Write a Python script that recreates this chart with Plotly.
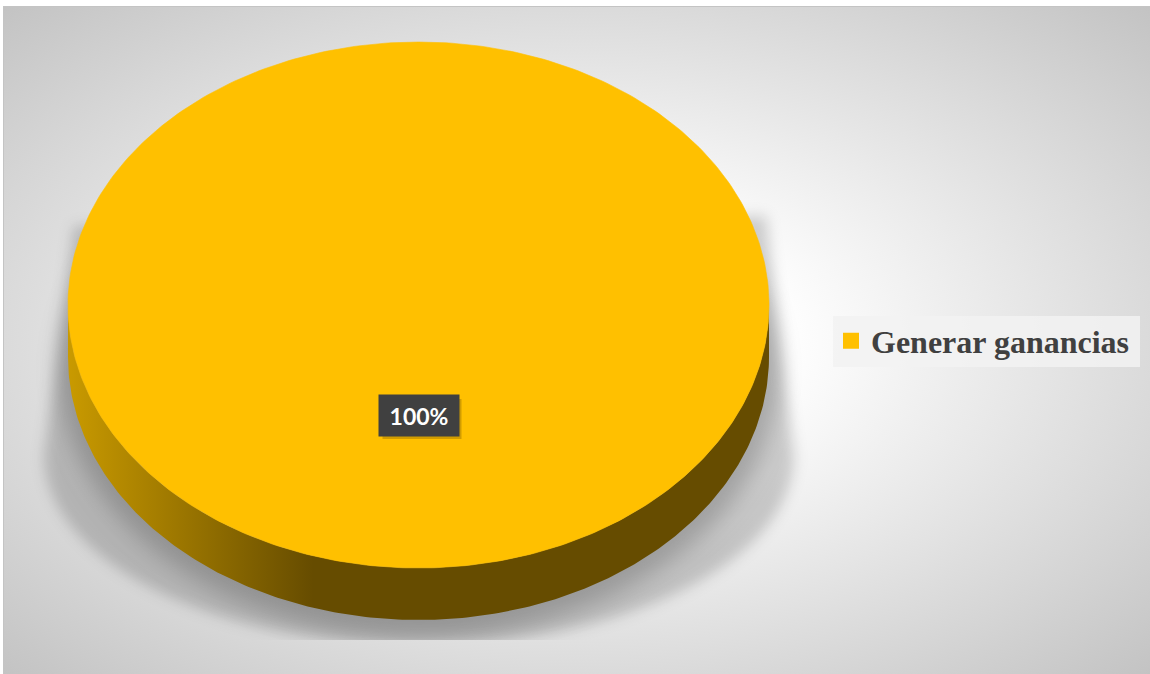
import base64
import numpy as np
import plotly.graph_objects as go

# Chart data
labels = ["Generar ganancias"]
values = [100]
colors = ["#FFC000"]
side_light = ["#C99A00"]
side_dark = ["#664C00"]

W, H = 1150, 674
# 3-D pie geometry in pixel units (top face ellipse + rim depth)
CX, CY, RX, RY, DEPTH = 418.5, 305.0, 350.5, 263.0, 52.0

total = float(sum(values))
fracs = [v / total for v in values]
starts = np.concatenate([[0.0], np.cumsum(fracs)[:-1]])

# Background panel with radial light and soft perspective shadow of the pie
svg = f'''<svg xmlns="http://www.w3.org/2000/svg" width="{W}" height="{H}" viewBox="0 0 {W} {H}">
<defs>
<radialGradient id="bg" cx="0.5" cy="0.5" r="0.7071">
<stop offset="0" stop-color="#ffffff"/>
<stop offset="0.25" stop-color="#ffffff"/>
<stop offset="1" stop-color="#c3c3c3"/>
</radialGradient>
<filter id="b1" x="-20%" y="-20%" width="140%" height="140%"><feGaussianBlur stdDeviation="7"/></filter>
<filter id="b2" x="-20%" y="-20%" width="140%" height="140%"><feGaussianBlur stdDeviation="11"/></filter>
<clipPath id="c"><rect x="0" y="0" width="{W}" height="640"/></clipPath>
</defs>
<rect x="0" y="0" width="{W}" height="{H}" fill="#ffffff"/>
<rect x="3.5" y="6.5" width="1147" height="668" fill="url(#bg)" stroke="#c4c4c4" stroke-width="1"/>
<g clip-path="url(#c)">
<path d="M74,226 L44,455 A375,190 0 0 0 794,455 L766,216 Z" fill="#000" fill-opacity="0.18" filter="url(#b1)"/>
<ellipse cx="419" cy="370" rx="360" ry="266" fill="#000" fill-opacity="0.2" filter="url(#b2)"/>
</g>
</svg>'''
bg_src = "data:image/svg+xml;base64," + base64.b64encode(svg.encode()).decode()

fig = go.Figure()

for lab, f, s, col, lt, dk in zip(labels, fracs, starts, colors, side_light, side_dark):
    # slices run clockwise from 12 o'clock (screen y grows downward)
    a0 = -np.pi / 2 + 2 * np.pi * s
    a1 = a0 + 2 * np.pi * f

    # front rim: visible part of the slice between 0 and pi
    lo, hi = max(a0, 0.0), min(a1, np.pi)
    if hi > lo:
        t = np.linspace(lo, hi, 240)
        xs = np.concatenate([CX + RX * np.cos(t), (CX + RX * np.cos(t))[::-1]])
        ys = np.concatenate([CY + RY * np.sin(t), (CY + DEPTH + RY * np.sin(t))[::-1]])
        fig.add_trace(go.Scatter(
            x=xs, y=ys, mode="lines", fill="toself", line=dict(width=0),
            fillgradient=dict(type="horizontal",
                              colorscale=[[0, lt], [0.35, dk], [1, dk]]),
            hoverinfo="skip", showlegend=False))

    # top face
    t = np.linspace(a0, a1, 400)
    xs = CX + RX * np.cos(t)
    ys = CY + RY * np.sin(t)
    if f < 1:
        xs = np.concatenate([[CX], xs, [CX]])
        ys = np.concatenate([[CY], ys, [CY]])
    fig.add_trace(go.Scatter(
        x=xs, y=ys, mode="lines", fill="toself", fillcolor=col,
        line=dict(width=0.6, color=col), hoverinfo="skip",
        showlegend=False, legendgroup=lab))

    # legend entry
    fig.add_trace(go.Scatter(
        x=[None], y=[None], mode="markers", name=lab, legendgroup=lab,
        marker=dict(symbol="square", size=16, color=col)))

# Data label
label_y = CY + 110
for lab, f in zip(labels, fracs):
    fig.add_shape(type="rect", x0=CX - 36, x1=CX + 43, y0=label_y - 16, y1=label_y + 24,
                  fillcolor="rgba(90,65,0,0.28)", line=dict(width=0), layer="above")
    fig.add_annotation(
        x=CX, y=label_y, text=f"<b>{f * 100:.0f}%</b>", showarrow=False,
        width=78, height=39, bgcolor="#404040",
        font=dict(family="Lato, Open Sans, sans-serif", size=23, color="#ffffff"))

# Legend panel
fig.add_shape(type="rect", x0=833, x1=1140, y0=316, y1=367,
              fillcolor="rgba(242,242,242,0.85)", line=dict(width=0), layer="below")

fig.update_layout(
    width=W, height=H,
    margin=dict(l=0, r=0, t=0, b=0),
    paper_bgcolor="#ffffff", plot_bgcolor="rgba(0,0,0,0)",
    xaxis=dict(range=[0, W], visible=False, fixedrange=True),
    yaxis=dict(range=[H, 0], visible=False, fixedrange=True),
    showlegend=True,
    legend=dict(x=831 / W, y=1 - 341 / H, xanchor="left", yanchor="middle",
                bgcolor="rgba(0,0,0,0)", borderwidth=0,
                font=dict(family="Liberation Serif, Times New Roman, serif",
                          size=32, color="#404040", weight="bold")),
    images=[dict(source=bg_src, xref="paper", yref="paper", x=0, y=1,
                 sizex=1, sizey=1, xanchor="left", yanchor="top",
                 sizing="stretch", layer="below")],
    hovermode=False,
)

fig.write_html("out.html")
